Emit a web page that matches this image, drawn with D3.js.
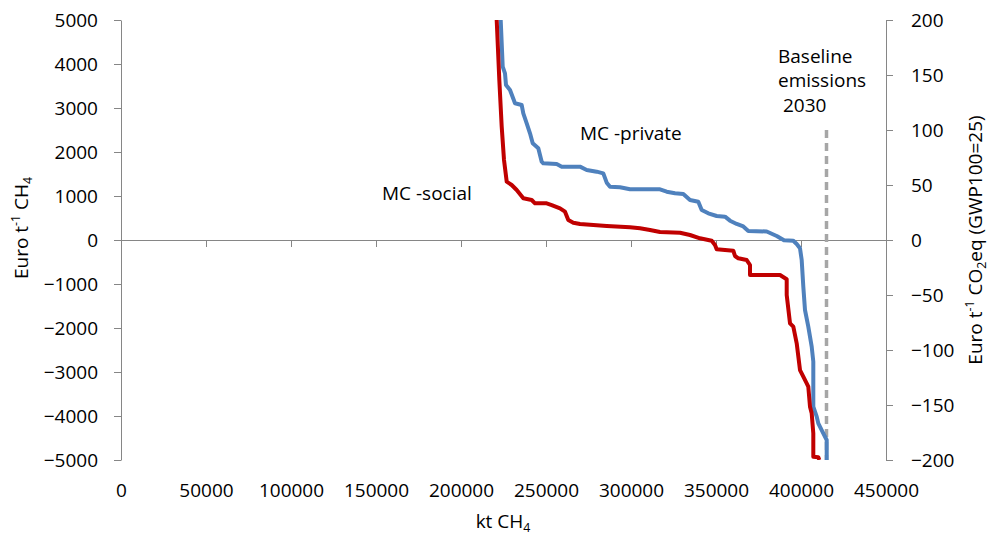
<!DOCTYPE html>
<html>
<head>
<meta charset="utf-8">
<script src="https://cdn.jsdelivr.net/npm/d3@7"></script>
<style>
  body { margin: 0; background: #fff; }
  svg text { font-family: "Open Sans", sans-serif; fill: #000; }
</style>
</head>
<body>
<svg id="chart" width="990" height="537"></svg>
<script>
// marginal cost curves, kt CH4 (cumulative) vs Euro per t CH4
const socialKt = [221000, 222540, 223940, 225300, 226890, 229820, 232760, 236650, 241590, 243530,
  250410, 253350, 258240, 261180, 263120, 266060, 270000, 285710, 299410, 305300,
  311180, 317060, 328830, 334710, 340590, 347470, 349410, 350410, 360180, 361180,
  363120, 368060, 370000, 370000, 387650, 391590, 391590, 393530, 395480, 397470,
  399410, 401360, 403350, 404290, 405290, 406290, 407240, 407240, 410180, 410770]
const socialCost = [5000, 3636, 2575, 1818, 1325, 1250, 1136, 948, 909, 834,
  834, 795, 720, 643, 455, 393, 364, 318, 289, 266,
  227, 182, 166, 114, 39, -16, -114, -211, -243, -364,
  -416, -455, -568, -795, -795, -893, -1250, -1893, -1970, -2348,
  -2955, -3107, -3257, -3333, -3788, -3939, -4394, -4925, -4939, -5000]

const privateKt = [223350, 224530, 225880, 226470, 228830, 231770, 235710, 236650, 238650, 240590,
  242180, 245470, 247470, 248410, 256290, 259240, 270000, 273940, 279820, 283710,
  285710, 287650, 293530, 299410, 317060, 321000, 325880, 330770, 334710, 339590,
  341590, 345470, 350410, 355300, 358240, 362180, 366060, 369000, 379830, 385710,
  390000, 395480, 397470, 399410, 400410, 401360, 402350, 404290, 406290, 407240,
  407240, 409240, 410180, 413120, 415120, 415120]
const privateCost = [5000, 3939, 3788, 3523, 3409, 3107, 3068, 2879, 2652, 2424,
  2197, 2083, 1780, 1742, 1727, 1667, 1667, 1591, 1553, 1515,
  1303, 1212, 1197, 1152, 1152, 1098, 1061, 1045, 909, 871,
  682, 606, 545, 530, 439, 364, 307, 205, 193, 91,
  -7, -16, -91, -189, -455, -1061, -1591, -1970, -2424, -2765,
  -3788, -4015, -4167, -4394, -4545, -5000]

const baselineKt = 415000
const baselineTop = 2500

const xTicks = [0, 50000, 100000, 150000, 200000, 250000, 300000, 350000, 400000, 450000]
const yTicks = [5000, 4000, 3000, 2000, 1000, 0, -1000, -2000, -3000, -4000, -5000]
const y2Ticks = [200, 150, 100, 50, 0, -50, -100, -150, -200]

const plotL = 121, plotR = 886, plotT = 20, plotB = 460
const fs = 19
const axisColor = "#868686"

const svg = d3.select("#chart")

const x = d3.scaleLinear().domain([0, 450000]).range([plotL, plotR])
const y = d3.scaleLinear().domain([-5000, 5000]).range([plotB, plotT])
const y2 = d3.scaleLinear().domain([-200, 200]).range([plotB, plotT])

function styleAxis(g) {
  g.select(".domain").attr("stroke", axisColor).attr("stroke-width", 1)
  g.selectAll(".tick line").attr("stroke", axisColor)
  g.selectAll(".tick text").attr("font-size", fs).attr("font-family", "Open Sans").attr("fill", "#000")
}

// left axis
const gy = svg.append("g").attr("transform", `translate(${plotL},0)`)
  .call(d3.axisLeft(y).tickValues(yTicks).tickSize(7).tickSizeOuter(0).tickPadding(16).tickFormat(d3.format("d")))
styleAxis(gy)

// right axis
const gy2 = svg.append("g").attr("transform", `translate(${plotR},0)`)
  .call(d3.axisRight(y2).tickValues(y2Ticks).tickSize(7).tickSizeOuter(0).tickPadding(18).tickFormat(d3.format("d")))
styleAxis(gy2)

// x axis sits on zero line, labels down at the bottom
const gx = svg.append("g").attr("transform", `translate(0,${y(0)})`)
  .call(d3.axisBottom(x).tickValues(xTicks).tickSize(7).tickSizeOuter(0).tickFormat(d3.format("d")))
styleAxis(gx)
gx.selectAll(".tick text").attr("y", plotB - y(0) + 37).attr("dy", 0)

// clip
svg.append("clipPath").attr("id", "plot")
  .append("rect").attr("x", plotL).attr("y", plotT).attr("width", plotR - plotL).attr("height", plotB - plotT)

const line = d3.line().x(d => x(d[0])).y(d => y(d[1]))

const plot = svg.append("g").attr("clip-path", "url(#plot)")

// baseline emissions 2030
plot.append("line")
  .attr("x1", x(baselineKt)).attr("x2", x(baselineKt))
  .attr("y1", y(baselineTop)).attr("y2", y(-5000))
  .attr("stroke", "#a6a6a6").attr("stroke-width", 3.5).attr("stroke-dasharray", "8,5")

plot.append("path")
  .datum(privateKt.map((k, i) => [k, privateCost[i]]))
  .attr("d", line).attr("fill", "none")
  .attr("stroke", "#4f81bd").attr("stroke-width", 4).attr("stroke-linejoin", "round")

plot.append("path")
  .datum(socialKt.map((k, i) => [k, socialCost[i]]))
  .attr("d", line).attr("fill", "none")
  .attr("stroke", "#c00000").attr("stroke-width", 4).attr("stroke-linejoin", "round")

// labels in plot
svg.append("text").attr("x", 580).attr("y", 140).attr("font-size", fs).text("MC -private")
svg.append("text").attr("x", 382).attr("y", 200).attr("font-size", fs).text("MC -social")
const bl = svg.append("text").attr("x", 778).attr("y", 63).attr("font-size", fs)
bl.append("tspan").attr("x", 778).attr("y", 63).text("Baseline")
bl.append("tspan").attr("x", 778).attr("y", 87).text("emissions")
bl.append("tspan").attr("x", 778).attr("y", 112).text("\u00a02030")

// axis titles
const sub = fs * 0.65
const xt = svg.append("text").attr("x", 503).attr("y", 528).attr("font-size", fs).attr("text-anchor", "middle")
xt.append("tspan").text("kt CH")
xt.append("tspan").attr("font-size", sub).attr("dy", 4).text("4")

const lt = svg.append("text").attr("transform", "translate(28,228) rotate(-90)")
  .attr("font-size", fs).attr("text-anchor", "middle")
lt.append("tspan").text("Euro t")
lt.append("tspan").attr("font-size", sub).attr("dy", -8).text("-1")
lt.append("tspan").attr("dy", 8).text(" CH")
lt.append("tspan").attr("font-size", sub).attr("dy", 4).text("4")

const rt = svg.append("text").attr("transform", "translate(982,240) rotate(-90)")
  .attr("font-size", fs).attr("text-anchor", "middle")
rt.append("tspan").text("Euro t")
rt.append("tspan").attr("font-size", sub).attr("dy", -8).text("-1")
rt.append("tspan").attr("dy", 8).text(" CO")
rt.append("tspan").attr("font-size", sub).attr("dy", 4).text("2")
rt.append("tspan").attr("dy", -4).text("eq (GWP100=25)")
</script>
</body>
</html>
